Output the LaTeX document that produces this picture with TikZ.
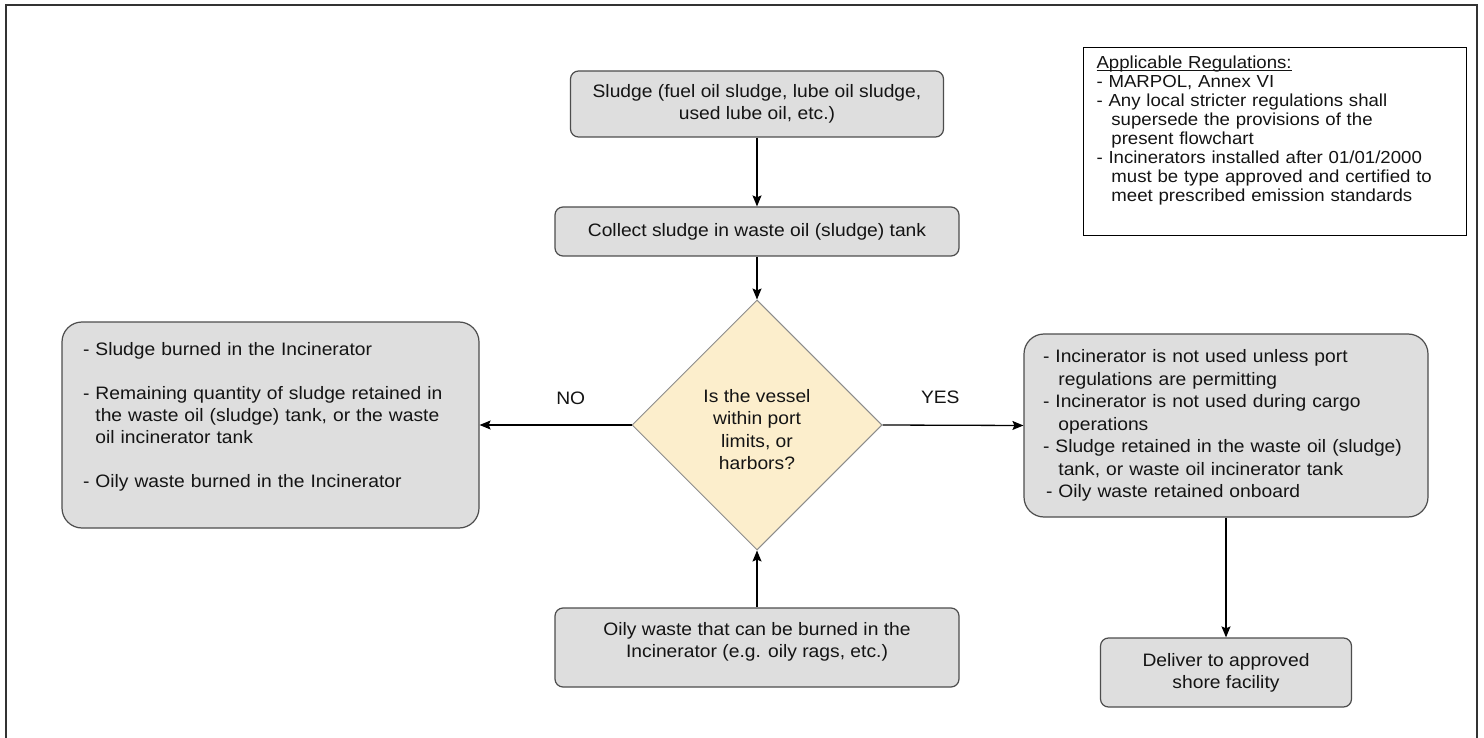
\documentclass[tikz,border=0pt]{standalone}
\usepackage{fontspec}
\setmainfont[FakeStretch=1.07]{Liberation Sans}
\usetikzlibrary{arrows.meta,shapes.geometric}
\definecolor{boxfill}{RGB}{222,222,222}
\definecolor{boxline}{RGB}{77,77,77}
\definecolor{diafill}{RGB}{252,238,204}
\definecolor{dialine}{RGB}{140,140,140}
\definecolor{txt}{RGB}{20,20,20}
\newcommand\myul[1]{\setbox0\hbox{#1}\rlap{\rule[-2.5pt]{\wd0}{0.9pt}}\box0}
\tikzset{
  gbox/.style={draw=boxline, fill=boxfill, line width=1.2pt, rounded corners=8pt, text=txt,
    font=\fontsize{18}{22}\selectfont, align=center, inner sep=0pt},
  bigbox/.style={gbox, rounded corners=20pt, align=left},
  conn/.style={line width=1.3pt, draw=black, -{Stealth[length=11pt,width=9pt,inset=2pt]}},
  lbl/.style={font=\fontsize{18}{22}\selectfont, text=txt, inner sep=0pt},
}
\begin{document}
\begin{tikzpicture}[x=1pt,y=-1pt]
\useasboundingbox (0,0) rectangle (1484,738);
\fill[white] (0,0) rectangle (1484,738);
% outer frame
\draw[line width=1.6pt, draw=black!80] (6,738) -- (6,5) -- (1477,5) -- (1477,738);

% regulations box
\node[draw=black, line width=1pt, fill=white, text=txt, align=left, inner ysep=0pt, inner xsep=13.5pt,
      text width=356pt, minimum width=383pt, minimum height=188pt,
      font=\fontsize{17.4}{19}\selectfont] (reg) at (1274.5,142)
  {\myul{Applicable Regulations:}\\
   - MARPOL, Annex VI\\
   - Any local stricter regulations shall\\
   \phantom{- }\,supersede the provisions of the\\
   \phantom{- }\,present flowchart\\
   - Incinerators installed after 01/01/2000\\
   \phantom{- }\,must be type approved and certified to\\
   \phantom{- }\,meet prescribed emission standards\rule[-26pt]{0pt}{0pt}};

% top boxes
\node[gbox, minimum width=373pt, minimum height=66pt] (sludge) at (757,104)
  {Sludge (fuel oil sludge, lube oil sludge,\\ used lube oil, etc.)};
\node[gbox, minimum width=404pt, minimum height=49pt] (collect) at (757,231.5)
  {Collect sludge in waste oil (sludge) tank};

% decision
\node[diamond, aspect=1, draw=dialine, fill=diafill, line width=1pt, minimum width=250pt,
      minimum height=250pt, inner sep=0pt, align=center, text=txt,
      font=\fontsize{18}{22.5}\selectfont] (dec) at (757,425)
  {\rule{0pt}{22pt}Is the vessel\\ within port\\ limits, or\\ harbors?};

% bottom box
\node[gbox, minimum width=404pt, minimum height=79pt] (oily) at (757,647.5)
  {Oily waste that can be burned in the\\ Incinerator (e.g. oily rags, etc.)\rule[-16pt]{0pt}{0pt}};

% left box
\node[bigbox, minimum width=417pt, minimum height=206pt, text width=375pt, inner xsep=21pt] (no) at (270.5,425)
  {- Sludge burned in the Incinerator\\[21.7pt]
   - Remaining quantity of sludge retained in\\
   \phantom{- }the waste oil (sludge) tank, or the waste\\
   \phantom{- }oil incinerator tank\\[21.7pt]
   - Oily waste burned in the Incinerator\rule[-20pt]{0pt}{0pt}};

% right box
\node[bigbox, minimum width=404pt, minimum height=183pt, text width=366pt, inner xsep=19pt,
      font=\fontsize{18}{22.5}\selectfont] (yes) at (1226,425.5)
  {- Incinerator is not used unless port\\
   \phantom{- }\,regulations are permitting\\
   - Incinerator is not used during cargo\\
   \phantom{- }\,operations\\
   - Sludge retained in the waste oil (sludge)\\
   \phantom{- }\,tank, or waste oil incinerator tank\\
   \,- Oily waste retained onboard};

% deliver box
\node[gbox, minimum width=251pt, minimum height=69pt] (shore) at (1226,672.5)
  {Deliver to approved\\ shore facility};

% connectors
\draw[conn] (sludge.south) -- (collect.north);
\draw[conn] (collect.south) -- (dec.north);
\draw[conn] (oily.north) -- (dec.south);
\draw[conn] (dec.west) -- node[lbl, pos=0.4, yshift=27pt] {NO} (no.east);
\draw[conn] (dec.east) -- node[lbl, pos=0.41, yshift=28pt] {YES} (yes.west);
\draw[conn] (yes.south) -- (shore.north);
\end{tikzpicture}
\end{document}
